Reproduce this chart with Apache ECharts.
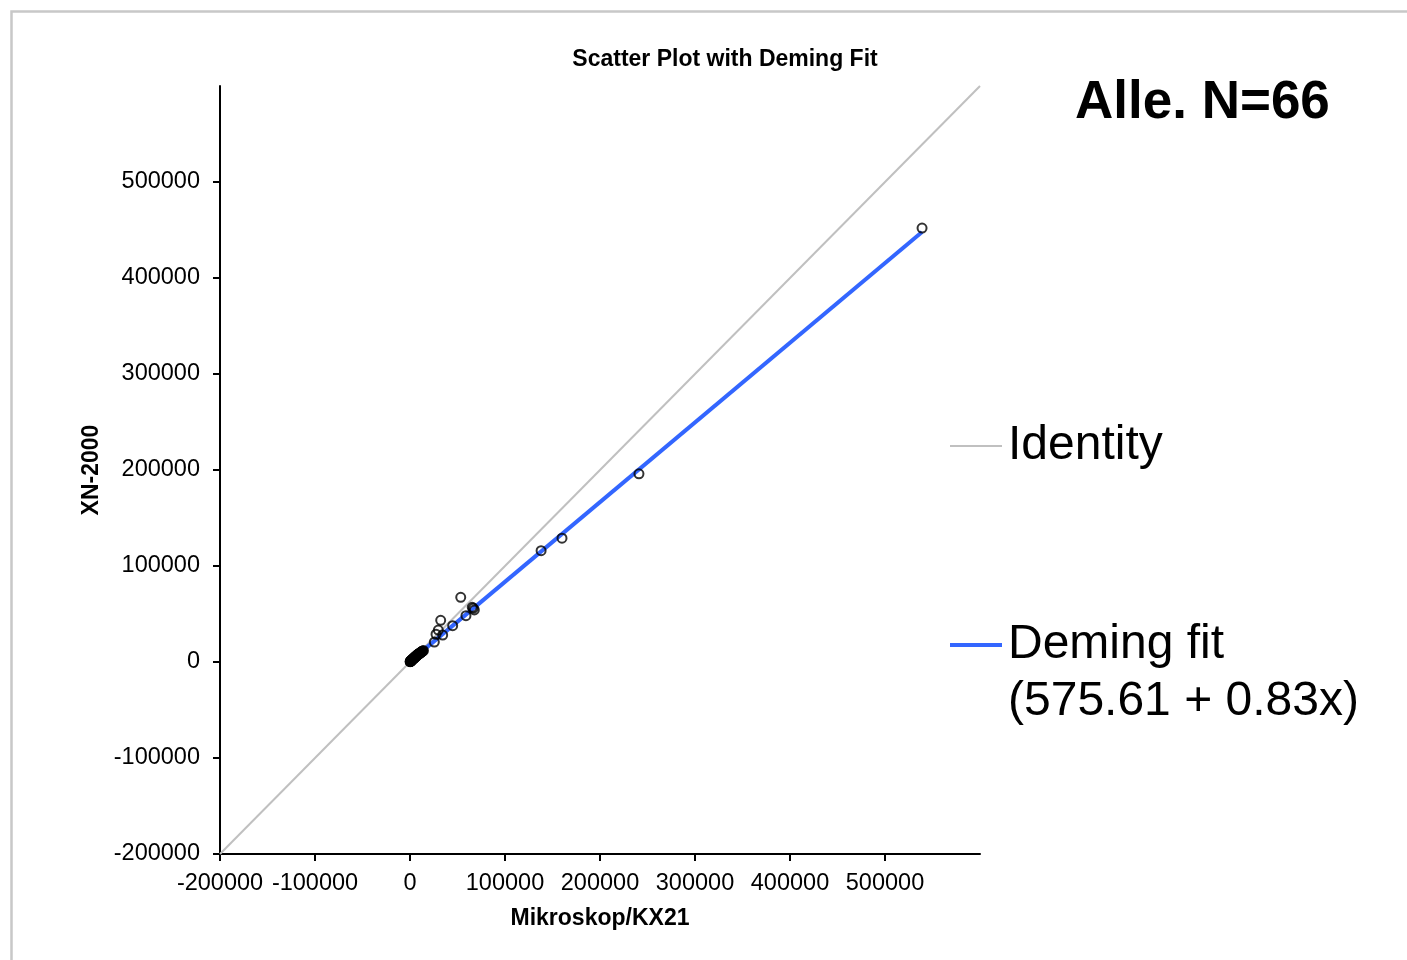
<!DOCTYPE html>
<html>
<head>
<meta charset="utf-8">
<title>Scatter Plot with Deming Fit</title>
<script src="https://cdn.jsdelivr.net/npm/echarts@6/dist/echarts.min.js"></script>
<style>
  html, body { margin: 0; padding: 0; background: #ffffff; }
  #chart { width: 1407px; height: 960px; }
</style>
</head>
<body>
<div id="chart"></div>
<script>
// Messwerte: Mikroskop/KX21 (x) gegen XN-2000 (y), N = 66
var xValues = [
  539000, 241000, 160000, 138000, 53400, 66600, 67700, 65500, 58900, 32300,
  44900, 29800, 27400, 34400, 25600,
  120, 250, 380, 500, 620, 800, 950, 1100, 1300, 1450,
  1600, 1800, 2000, 2200, 2400, 2600, 2800, 3000, 3300, 3500,
  3700, 4000, 4200, 4500, 4800, 5000, 5300, 5600, 5900, 6200,
  6500, 6800, 7100, 7400, 7700, 8000, 8300, 8600, 9000, 9300,
  9700, 10100, 10500, 10900, 11300, 11700, 12100, 12500, 13000, 13500,
  14200
];
var yValues = [
  452000, 196000, 129000, 116000, 67400, 55900, 54200, 57000, 48200, 43400,
  37800, 33300, 28900, 28100, 20800,
  300, 410, 520, 700, 650, 980, 1100, 1250, 1500, 1400,
  1800, 1900, 2100, 2300, 2450, 2700, 2900, 3150, 3200, 3600,
  3500, 4100, 3900, 4400, 4700, 5200, 4900, 5400, 5600, 6000,
  6300, 6200, 6900, 7000, 7300, 7600, 8000, 7900, 8300, 8600,
  8800, 9200, 9100, 9600, 9900, 10400, 10600, 10800, 11200, 11500,
  11900
];

// Deming-Regression (aus der Legende)
var demingIntercept = 575.61;
var demingSlope = 0.83;

// Achsen
var axisMin = -200000;
var axisMax = 600000;
var tickValues = [-200000, -100000, 0, 100000, 200000, 300000, 400000, 500000];

var points = xValues.map(function (x, i) { return [x, yValues[i]]; });
var xLo = Math.min.apply(null, xValues);
var xHi = Math.max.apply(null, xValues);
var demingLine = [
  [xLo, demingIntercept + demingSlope * xLo],
  [xHi, demingIntercept + demingSlope * xHi]
];
var identityLine = [[axisMin, axisMin], [axisMax, axisMax]];

var font = 'Liberation Sans, Arial, sans-serif';

var chart = echarts.init(document.getElementById('chart'), null, { renderer: 'canvas' });

function makeAxis(name, gap) {
  return {
    type: 'value',
    min: axisMin,
    max: axisMax,
    interval: 100000,
    name: name,
    nameLocation: 'middle',
    nameGap: gap,
    nameTextStyle: { fontFamily: font, fontSize: 23, fontWeight: 'bold', color: '#000' },
    axisLine: { show: true, onZero: false, lineStyle: { color: '#000', width: 2 } },
    axisTick: { show: true, inside: false, length: 7, customValues: tickValues, lineStyle: { color: '#000', width: 2 } },
    axisLabel: {
      fontFamily: font, fontSize: 23.5, color: '#000', margin: 18, customValues: tickValues,
      formatter: function (v) { return String(v); }
    },
    splitLine: { show: false }
  };
}

var xAxis = makeAxis('Mikroskop/KX21', 53);
var yAxis = makeAxis('XN-2000', 113);
yAxis.axisLabel.margin = 20;

chart.setOption({
  animation: false,
  backgroundColor: '#ffffff',
  title: {
    text: 'Scatter Plot with Deming Fit',
    left: 720,
    top: 43,
    textAlign: 'center',
    textStyle: { fontFamily: font, fontSize: 23, fontWeight: 'bold', color: '#000' }
  },
  grid: { left: 220, right: 427, top: 86, bottom: 106, containLabel: false },
  xAxis: xAxis,
  yAxis: yAxis,
  legend: [
    {
      data: ['Identity'],
      left: 950,
      top: 422,
      padding: 0,
      icon: 'rect',
      itemWidth: 52,
      itemHeight: 2,
      textStyle: { fontFamily: font, fontSize: 48, color: '#000', padding: [0, 0, 0, 1] }
    },
    {
      data: ['Deming fit'],
      left: 950,
      top: 621,
      padding: 0,
      icon: 'rect',
      itemWidth: 52,
      itemHeight: 4,
      textStyle: { fontFamily: font, fontSize: 48, color: '#000', padding: [0, 0, 0, 1] }
    }
  ],
  graphic: [
    {
      type: 'rect',
      left: 9,
      top: 9,
      silent: true,
      shape: { width: 1500, height: 1000 },
      style: { fill: 'none', stroke: '#c8c8c8', lineWidth: 2.5 }
    },
    {
      type: 'text',
      left: 1075,
      top: 77,
      style: { text: 'Alle. N=66', fontFamily: font, fontSize: 53, fontWeight: 'bold', fill: '#000' }
    },
    {
      type: 'text',
      left: 1008,
      top: 678,
      style: { text: '(' + demingIntercept + ' + ' + demingSlope + 'x)', fontFamily: font, fontSize: 48, fill: '#000' }
    }
  ],
  series: [
    {
      name: 'Identity',
      type: 'line',
      data: identityLine,
      symbol: 'none',
      color: '#c0c0c0',
      lineStyle: { color: '#c0c0c0', width: 2 },
      z: 2
    },
    {
      name: 'Deming fit',
      type: 'line',
      data: demingLine,
      symbol: 'none',
      color: '#3366ff',
      lineStyle: { color: '#3366ff', width: 4 },
      z: 3
    },
    {
      name: 'Messwerte',
      type: 'scatter',
      data: points,
      symbol: 'circle',
      symbolSize: 9,
      itemStyle: { color: 'rgba(0,0,0,0)', borderColor: '#000', borderWidth: 2 },
      z: 4
    }
  ]
});
</script>
</body>
</html>
